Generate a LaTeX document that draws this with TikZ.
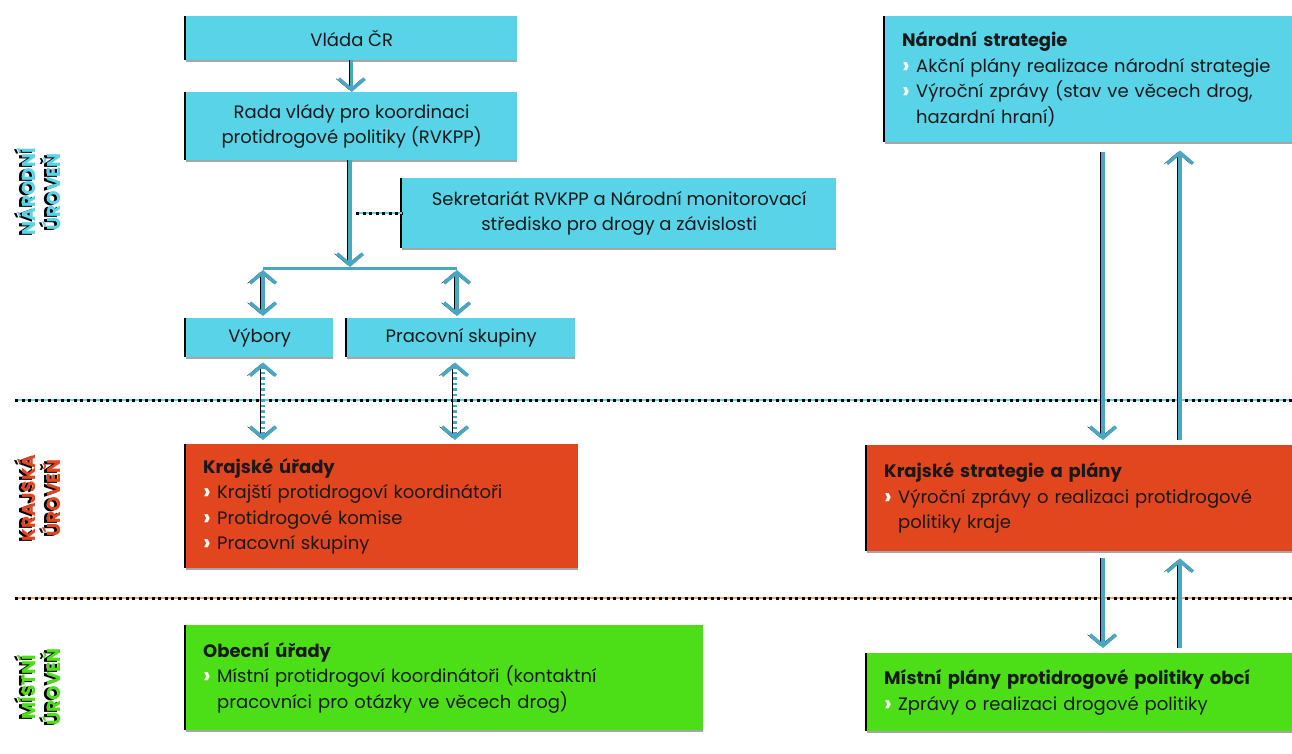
\documentclass[tikz,border=0pt]{standalone}
\usepackage{fontspec}
\setmainfont{Poppins}
\usetikzlibrary{positioning,arrows.meta,calc}
\definecolor{natcyan}{HTML}{58D3E7}
\definecolor{regred}{HTML}{E2461F}
\definecolor{locgreen}{HTML}{4CDF17}
\definecolor{arrowblue}{HTML}{4AA7C3}
\definecolor{lineorange}{HTML}{F2A57A}
\tikzset{
  orgbox/.style={fill=natcyan, anchor=north west, inner sep=0pt, align=center,
    font=\fontsize{18}{25.5}\selectfont, text=black!90,
    preaction={fill=black, transform canvas={xshift=-2.5pt}},
    preaction={fill=black!35, transform canvas={yshift=-2pt}}},
  listbox/.style={orgbox, align=left, inner xsep=17pt},
  regbox/.style={listbox, fill=regred},
  locbox/.style={listbox, fill=locgreen},
  flowarrow/.style={draw=arrowblue, line width=3.5pt, -{Straight Barb[length=11pt,width=26pt]},
    preaction={draw=black, transform canvas={xshift=-2.5pt}}},
  duoarrow/.style={flowarrow, {Straight Barb[length=11pt,width=26pt]}-{Straight Barb[length=11pt,width=26pt]}},
  dotarrow/.style={duoarrow, dash pattern=on 2.5pt off 3pt},
  sepline/.style={draw=black, line width=3pt, dash pattern=on 3pt off 3.5pt,
    preaction={draw=#1, line width=2.5pt, solid}},
  lvllabel/.style={rotate=90, align=center, font=\bfseries\fontsize{18.5}{25}\selectfont},
}
\newcommand{\bul}{\makebox[14pt][l]{\raisebox{-1pt}{\textcolor{white}{\fontsize{23}{23}\selectfont\bfseries ›}}}}

\begin{document}
\begin{tikzpicture}[x=1pt,y=-1pt]
  \useasboundingbox (0,0) rectangle (1292,753);
  % level labels
  \node[lvllabel, text=black] (natlabs) at (36,193) {NÁRODNÍ\\ÚROVEŇ};
  \node[lvllabel, text=natcyan] (natlab) at (39,192) {NÁRODNÍ\\ÚROVEŇ};
  \node[lvllabel, text=black] (reglabs) at (36,499) {KRAJSKÁ\\ÚROVEŇ};
  \node[lvllabel, text=regred] (reglab) at (39,498) {KRAJSKÁ\\ÚROVEŇ};
  \node[lvllabel, text=black] (loclabs) at (36,688) {MÍSTNÍ\\ÚROVEŇ};
  \node[lvllabel, text=locgreen] (loclab) at (39,687) {MÍSTNÍ\\ÚROVEŇ};
  % separators
  \coordinate (sepa) at (15,400);
  \coordinate (sepb) at (15,598);
  \draw[sepline=natcyan] (sepa) -- (sepa -| 1292,0);
  \draw[sepline=lineorange] (sepb) -- (sepb -| 1292,0);
  % national level
  \node[orgbox, minimum width=331pt, minimum height=44pt] (vlada) at (186,16) {Vláda ČR};
  \node[orgbox, minimum width=331pt, minimum height=68pt] (rada) at (186,92)
    {Rada vlády pro koordinaci\\protidrogové politiky (RVKPP)};
  \node[orgbox, minimum width=434pt, minimum height=70pt] (sekr) at (402,178)
    {Sekretariát RVKPP a Národní monitorovací\\středisko pro drogy a závislosti};
  \node[orgbox, minimum width=147pt, minimum height=39pt] (vybory) at (186,318) {Výbory};
  \node[orgbox, minimum width=228pt, minimum height=39pt] (prac) at (347,318) {Pracovní skupiny};
  \node[listbox, text width=373pt, minimum height=126pt] (narstr) at (885,16)
    {\textbf{Národní strategie}\\
     \bul Akční plány realizace národní strategie\\
     \bul Výroční zprávy (stav ve věcech drog,\\
     \hspace*{14pt}hazardní hraní)};
  % regional level
  \node[regbox, text width=358pt, minimum height=124pt] (krajur) at (186,444)
    {\textbf{Krajské úřady}\\
     \bul Krajští protidrogoví koordinátoři\\
     \bul Protidrogové komise\\
     \bul Pracovní skupiny};
  \node[regbox, text width=391pt, minimum height=106pt] (krajstr) at (867,445)
    {\textbf{Krajské strategie a plány}\\
     \bul Výroční zprávy o realizaci protidrogové\\
     \hspace*{14pt}politiky kraje};
  % local level
  \node[locbox, text width=483pt, minimum height=105pt] (obec) at (186,625)
    {\textbf{Obecní úřady}\\
     \bul Místní protidrogoví koordinátoři (kontaktní\\
     \hspace*{14pt}pracovníci pro otázky ve věcech drog)};
  \node[locbox, text width=391pt, minimum height=78pt] (mistni) at (867,653)
    {\textbf{Místní plány protidrogové politiky obcí}\\
     \bul Zprávy o realizaci drogové politiky};
  % connectors
  \coordinate (branch) at (350,268);
  \coordinate (brl) at (263,268);
  \coordinate (brr) at (457,268);
  \coordinate (upx) at (1180,0);
  \coordinate (downx) at (1103,0);
  \draw[flowarrow] (vlada.south) -- (rada.north);
  \draw[sepline=natcyan] ($(sekr.west -| branch)+(6,0)$) -- (sekr.west);
  \draw[flowarrow, shorten >=1pt] (rada.south -| branch) -- (branch);
  \draw[draw=arrowblue, line width=3pt, preaction={draw=black, transform canvas={yshift=-1.5pt}}] (brl) -- (brr);
  \draw[duoarrow, shorten <=2pt, shorten >=2pt] (brl) -- (vybory.north -| brl);
  \draw[duoarrow, shorten <=2pt, shorten >=2pt] (brr) -- (prac.north -| brr);
  \draw[dotarrow, shorten <=5pt, shorten >=4pt] (vybory.south -| brl) -- (krajur.north -| brl);
  \draw[dotarrow, shorten <=5pt, shorten >=4pt] (prac.south -| 455,0) -- (krajur.north -| 455,0);
  \draw[flowarrow, shorten <=10pt, shorten >=5pt] (narstr.south -| downx) -- (krajstr.north -| downx);
  \draw[flowarrow, shorten <=5pt, shorten >=8pt] (krajstr.north -| upx) -- (narstr.south -| upx);
  \draw[flowarrow, shorten <=7pt, shorten >=5pt] (krajstr.south -| downx) -- (mistni.north -| downx);
  \draw[flowarrow, shorten <=5pt, shorten >=7pt] (mistni.north -| upx) -- (krajstr.south -| upx);
\end{tikzpicture}
\end{document}
